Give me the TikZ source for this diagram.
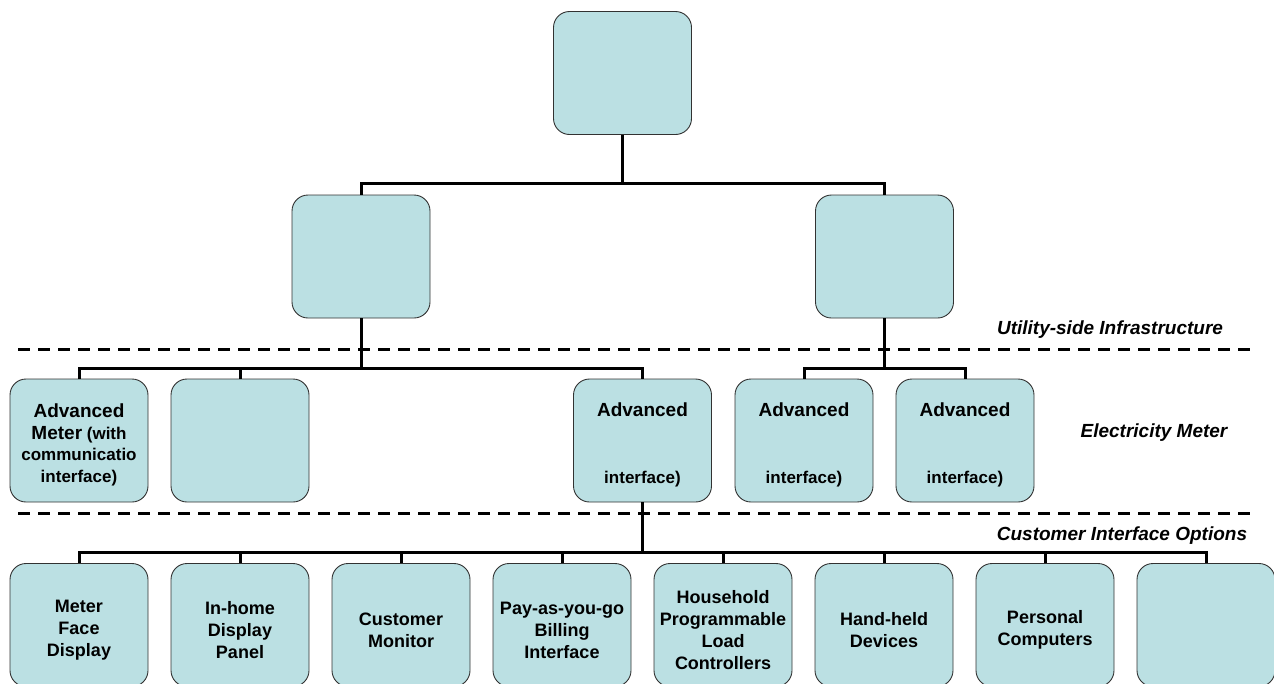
\documentclass[tikz,border=0pt]{standalone}
\usepackage{fontspec}
\setmainfont{Liberation Sans}
\definecolor{boxfill}{RGB}{187,224,227}
\definecolor{boxline}{RGB}{50,50,50}
\newcommand\capsz{\fontsize{19}{21.5}\selectfont}
\newcommand\subsz{\fontsize{17}{21.5}\selectfont}
% extra head room on the first line, so the text block sits a little lower
\newcommand\lift{\rule{0pt}{23pt}}
\begin{document}
\begin{tikzpicture}[x=1pt,y=-1pt,
  box/.style={draw=boxline, line width=0.9pt, fill=boxfill, rounded corners=16pt,
    minimum width=138pt, minimum height=123pt, inner sep=1pt, align=center,
    font=\bfseries\fontsize{18}{22}\selectfont},
  conn/.style={line width=3pt, black},
  divider/.style={line width=3pt, black, dash pattern=on 12pt off 8pt},
  zone/.style={font=\bfseries\itshape\fontsize{19}{22}\selectfont, inner sep=0pt}]
\useasboundingbox (0,0) rectangle (1274,683);

% dashed boundaries between the three zones
\coordinate (d1a) at (18,349);  \coordinate (d1b) at (1252,349);
\coordinate (d2a) at (18,513);  \coordinate (d2b) at (1252,513);
\draw[divider] (d1a) -- (d1b);
\draw[divider] (d2a) -- (d2b);

\node[zone] (zutil) at (1110,330) {Utility-side Infrastructure};
\node[zone] (zmeter) at (1154,433) {Electricity Meter};
\node[zone] (zcust) at (1122,536) {Customer Interface Options};

% top level
\node[box] (top) at (622.5,73) {};

% second level
\node[box] (ua) at (361,256.5) {};
\node[box] (ub) at (884.5,256.5) {};

% meters
\node[box, font=\bfseries\subsz] (m1) at (79,440.5)
  {\lift{\capsz Advanced}\\{\capsz Meter} (with\\communicatio\\interface)};
\node[box] (m2) at (240,440.5) {};
\node[box, font=\bfseries\subsz] (m3) at (642.5,440.5) {\lift{\capsz Advanced}\\[45pt]interface)};
\node[box, font=\bfseries\subsz] (m4) at (804,440.5) {\lift{\capsz Advanced}\\[45pt]interface)};
\node[box, font=\bfseries\subsz] (m5) at (965,440.5) {\lift{\capsz Advanced}\\[45pt]interface)};

% customer interface options
\node[box] (c1) at (79,625)   {\lift Meter\\Face\\Display};
\node[box] (c2) at (240,625)  {\lift In-home\\Display\\Panel};
\node[box] (c3) at (401,625)  {\lift Customer\\Monitor};
\node[box] (c4) at (562,625)  {\lift Pay-as-you-go\\Billing\\Interface};
\node[box] (c5) at (723,625)  {\lift Household\\Programmable\\Load\\Controllers};
\node[box] (c6) at (884,625)  {\lift Hand-held\\Devices};
\node[box] (c7) at (1045,625) {\lift Personal\\Computers};
\node[box] (c8) at (1206,625) {};

% bus junctions
\coordinate (b1) at (622.5,183);
\coordinate (b2) at (361,368);
\coordinate (b3) at (884.5,368);
\coordinate (b4) at (642.5,552);

% connectors
\draw[conn] (top.south) -- (b1);
\draw[conn] (ua.north) |- (b1) -| (ub.north);

\draw[conn] (ua.south) -- (b2);
\draw[conn] (m1.north) |- (b2) -| (m3.north);
\draw[conn] (m2.north) -- (m2.north |- b2);

\draw[conn] (ub.south) -- (b3);
\draw[conn] (m4.north) |- (b3) -| (m5.north);

\draw[conn] (m3.south) -- (b4);
\draw[conn] (c1.north) |- (b4) -| (c8.north);
\foreach \n in {c2,c3,c4,c5,c6,c7}
  \draw[conn] (\n.north) -- (\n.north |- b4);
\end{tikzpicture}
\end{document}
